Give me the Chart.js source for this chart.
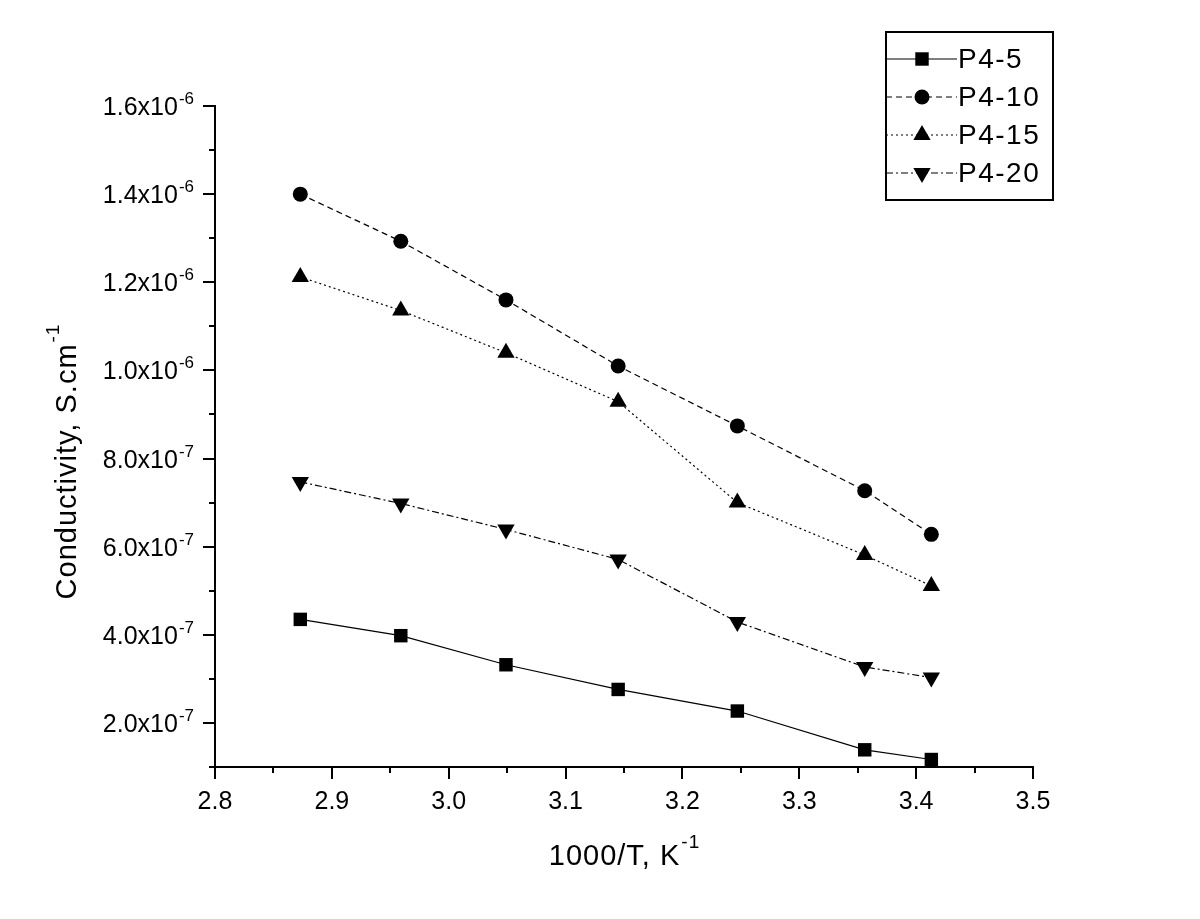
<!DOCTYPE html>
<html>
<head>
<meta charset="utf-8">
<script src="https://cdn.jsdelivr.net/npm/chart.js@4.4.1/dist/chart.umd.min.js"></script>
<style>
  html, body { margin: 0; padding: 0; background: #fff; }
  #wrap { width: 1200px; height: 919px; }
</style>
</head>
<body>
<div id="wrap"><canvas id="chart" width="1200" height="919"></canvas></div>
<script>
// 1000/T values (K^-1)
const invTemp = [2.873, 2.959, 3.049, 3.145, 3.247, 3.356, 3.413]

// conductivity, S/cm
const p4_5 = [4.35e-7, 3.98e-7, 3.32e-7, 2.76e-7, 2.27e-7, 1.39e-7, 1.17e-7]
const p4_10 = [1.400e-6, 1.293e-6, 1.160e-6, 1.010e-6, 8.74e-7, 7.27e-7, 6.28e-7]
const p4_15 = [1.212e-6, 1.136e-6, 1.040e-6, 9.29e-7, 7.00e-7, 5.81e-7, 5.11e-7]
const p4_20 = [7.47e-7, 6.98e-7, 6.39e-7, 5.71e-7, 4.29e-7, 3.27e-7, 3.03e-7]

const seriesNames = ['P4-5', 'P4-10', 'P4-15', 'P4-20']

// axis ticks
const xMajorTicks = [2.8, 2.9, 3.0, 3.1, 3.2, 3.3, 3.4, 3.5]
const xTickLabels = ['2.8', '2.9', '3.0', '3.1', '3.2', '3.3', '3.4', '3.5']
const xMinorTicks = [2.85, 2.95, 3.05, 3.15, 3.25, 3.35, 3.45]
const yMajorTicks = [2e-7, 4e-7, 6e-7, 8e-7, 1.0e-6, 1.2e-6, 1.4e-6, 1.6e-6]
const yTickMantissa = ['2.0', '4.0', '6.0', '8.0', '1.0', '1.2', '1.4', '1.6']
const yTickExponent = ['-7', '-7', '-7', '-7', '-6', '-6', '-6', '-6']
const yMinorTicks = [1e-7, 3e-7, 5e-7, 7e-7, 9e-7, 1.1e-6, 1.3e-6, 1.5e-6]

const FONT = '"Liberation Sans", Arial, sans-serif'

const toPoints = ys => invTemp.map((x, i) => ({ x, y: ys[i] }))

const styles = [
  { data: p4_5, pointStyle: 'rect', radius: 9.5, rotation: 0, dash: [] },
  { data: p4_10, pointStyle: 'circle', radius: 7.5, rotation: 0, dash: [6, 4] },
  { data: p4_15, pointStyle: 'triangle', radius: 10, rotation: 0, dash: [2, 3] },
  { data: p4_20, pointStyle: 'triangle', radius: 10, rotation: 180, dash: [7, 3, 2, 3] }
]

const datasets = styles.map((s, i) => ({
  label: seriesNames[i],
  data: toPoints(s.data),
  showLine: true,
  borderColor: '#000',
  backgroundColor: '#000',
  borderWidth: 1.2,
  borderDash: s.dash,
  pointStyle: s.pointStyle,
  pointRadius: s.radius,
  pointRotation: s.rotation,
  pointBorderWidth: 0,
  pointBackgroundColor: '#000',
  tension: 0
}))

// text with a superscript part
function drawSup(ctx, base, sup, x, y, baseSize, supSize, rise, align, spacing) {
  ctx.letterSpacing = (spacing || 0) + 'px'
  ctx.font = baseSize + 'px ' + FONT
  const wb = ctx.measureText(base).width
  ctx.font = supSize + 'px ' + FONT
  const ws = ctx.measureText(sup).width
  let x0 = x
  if (align === 'right') x0 = x - wb - ws
  else if (align === 'center') x0 = x - (wb + ws) / 2
  ctx.textAlign = 'left'
  ctx.textBaseline = 'alphabetic'
  ctx.font = baseSize + 'px ' + FONT
  ctx.fillText(base, x0, y)
  ctx.font = supSize + 'px ' + FONT
  ctx.fillText(sup, x0 + wb + 1, y - rise)
  ctx.letterSpacing = '0px'
}

const axesPlugin = {
  id: 'originAxes',
  afterDraw(chart) {
    const ctx = chart.ctx
    const xs = chart.scales.x
    const ys = chart.scales.y
    const area = chart.chartArea
    ctx.save()
    ctx.strokeStyle = '#000'
    ctx.fillStyle = '#000'
    ctx.lineWidth = 2
    ctx.setLineDash([])

    // x ticks
    ctx.beginPath()
    xMajorTicks.forEach(v => {
      const px = Math.round(xs.getPixelForValue(v))
      ctx.moveTo(px, area.bottom)
      ctx.lineTo(px, area.bottom + 12)
    })
    xMinorTicks.forEach(v => {
      const px = Math.round(xs.getPixelForValue(v))
      ctx.moveTo(px, area.bottom)
      ctx.lineTo(px, area.bottom + 6)
    })
    // y ticks
    yMajorTicks.forEach(v => {
      const py = Math.round(ys.getPixelForValue(v))
      ctx.moveTo(area.left, py)
      ctx.lineTo(area.left - 12, py)
    })
    yMinorTicks.forEach(v => {
      const py = Math.round(ys.getPixelForValue(v))
      ctx.moveTo(area.left, py)
      ctx.lineTo(area.left - 6, py)
    })
    ctx.stroke()

    // tick labels
    ctx.font = '25px ' + FONT
    ctx.textAlign = 'center'
    ctx.textBaseline = 'alphabetic'
    xMajorTicks.forEach((v, i) => {
      ctx.fillText(xTickLabels[i], xs.getPixelForValue(v), area.bottom + 42)
    })
    yMajorTicks.forEach((v, i) => {
      const py = ys.getPixelForValue(v)
      drawSup(ctx, yTickMantissa[i] + 'x10', yTickExponent[i], area.left - 22, py + 9, 25, 17, 11, 'right')
    })

    // axis titles
    drawSup(ctx, '1000/T, K', '-1', 624, 865, 29, 19, 17, 'center', 1)
    ctx.save()
    ctx.translate(76, 462)
    ctx.rotate(-Math.PI / 2)
    drawSup(ctx, 'Conductivity, S.cm', '-1', 0, 0, 29, 19, 17, 'center', 1)
    ctx.restore()

    // legend box
    const box = { left: 886, top: 32, right: 1053, bottom: 200 }
    ctx.lineWidth = 2
    ctx.strokeRect(box.left, box.top, box.right - box.left, box.bottom - box.top)
    const rowY = [59, 97, 135, 173]
    chart.data.datasets.forEach((ds, i) => {
      const y = rowY[i]
      ctx.lineWidth = 1.2
      ctx.setLineDash(ds.borderDash)
      ctx.beginPath()
      ctx.moveTo(box.left, y)
      ctx.lineTo(957, y)
      ctx.stroke()
      ctx.setLineDash([])
      Chart.helpers.drawPoint(ctx, {
        pointStyle: ds.pointStyle,
        rotation: ds.pointRotation,
        radius: ds.pointRadius,
        borderWidth: 0
      }, 922, y)
      ctx.font = '28px ' + FONT
      ctx.letterSpacing = '1.5px'
      ctx.textAlign = 'left'
      ctx.textBaseline = 'middle'
      ctx.fillText(ds.label, 958, y + 1)
      ctx.letterSpacing = '0px'
    })
    ctx.restore()
  }
}

new Chart(document.getElementById('chart'), {
  type: 'scatter',
  data: { datasets },
  options: {
    responsive: false,
    animation: false,
    devicePixelRatio: 1,
    layout: { padding: { left: 215, top: 106, right: 167, bottom: 152 } },
    plugins: { legend: { display: false }, tooltip: { enabled: false } },
    scales: {
      x: {
        type: 'linear',
        min: 2.8,
        max: 3.5,
        grid: { display: false, drawTicks: false },
        ticks: { display: false },
        border: { display: true, color: '#000', width: 2 },
        afterFit: s => { s.height = 0 }
      },
      y: {
        type: 'linear',
        min: 1e-7,
        max: 1.6e-6,
        grid: { display: false, drawTicks: false },
        ticks: { display: false },
        border: { display: true, color: '#000', width: 2 },
        afterFit: s => { s.width = 0 }
      }
    }
  },
  plugins: [axesPlugin]
})
</script>
</body>
</html>
